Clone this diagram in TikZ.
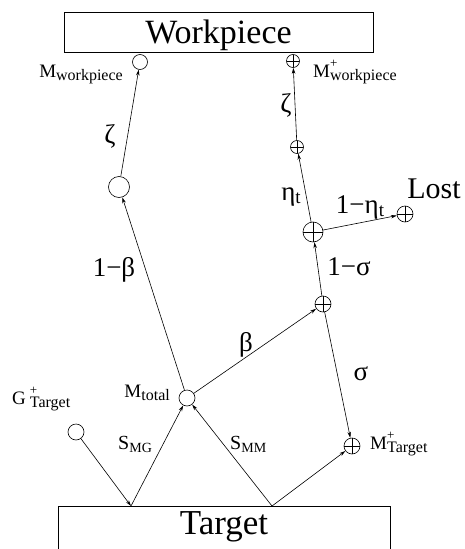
\documentclass[tikz,border=0pt]{standalone}
\usepackage{fontspec}
\setmainfont{Liberation Serif}
\usetikzlibrary{arrows.meta}

\newcommand{\lowsub}[2][16]{\raisebox{-3pt}{\fontsize{#1}{#1}\selectfont #2}}
\newcommand{\lowsup}[1]{\makebox[0pt][l]{\raisebox{9.5pt}{\fontsize{13}{13}\selectfont #1}}}

\tikzset{
  port/.style={circle, draw, line width=0.6pt, inner sep=0pt},
  pport/.style={port, path picture={
    \draw[line width=0.6pt] (path picture bounding box.north) -- (path picture bounding box.south)
      (path picture bounding box.west) -- (path picture bounding box.east);}},
  flow/.style={-{Stealth[length=6pt,width=3.5pt]}, line width=0.6pt},
  plate/.style={draw, line width=0.8pt, inner xsep=0pt, inner ysep=0pt, anchor=north},
  lbl/.style={font=\fontsize{27}{29}\selectfont, inner sep=0pt},
  mlbl/.style={font=\fontsize{19}{21}\selectfont, inner sep=0pt, anchor=base west},
}

\begin{document}
\begin{tikzpicture}[x=1pt,y=-1pt]
\useasboundingbox (0,0) rectangle (465,549);
\clip (0,0) rectangle (465,549);

% Boxes
\node[plate, minimum width=309pt, text height=31pt, text depth=9pt,
  font=\fontsize{34}{36}\selectfont] (wp) at (218.5,12) {Workpiece};
\node[plate, minimum width=332pt, text height=28pt, text depth=30pt,
  font=\fontsize{35}{37}\selectfont] (tg) at (224,506) {Target};
\coordinate (tgl) at (131,506);
\coordinate (tgr) at (272,506);

% Circles
\node[port, minimum size=15pt] (mwp) at (140,62) {};
\node[pport, minimum size=13pt] (mwpp) at (293,61) {};
\node[port, minimum size=21pt] (mid) at (119,187) {};
\node[pport, minimum size=13pt] (zp) at (297,147) {};
\node[pport, minimum size=20pt] (ep) at (313,232) {};
\node[pport, minimum size=16pt] (lost) at (405,214) {};
\node[pport, minimum size=16pt] (sp) at (323,304) {};
\node[port, minimum size=16pt] (mtot) at (187,398) {};
\node[port, minimum size=16pt] (gt) at (76,432) {};
\node[pport, minimum size=16pt] (mtp) at (352,446) {};

% Flows
\draw[flow] (mid) -- (mwp);
\draw[flow] (zp) -- (mwpp);
\draw[flow] (ep) -- (zp);
\draw[flow] (ep) -- (lost);
\draw[flow] (sp) -- (ep);
\draw[flow] (mtot) -- (mid);
\draw[flow] (mtot) -- (sp);
\draw[flow] (sp) -- (mtp);
\draw[flow] (gt) -- (tgl);
\draw[flow] (tgl) -- (mtot);
\draw[flow] (tgr) -- (mtot);
\draw[flow] (tgr) -- (mtp);

% Flow labels
\node[lbl] (zl) at (110,136) {ζ};
\node[lbl] (zr) at (286,105) {ζ};
\node[lbl] (et) at (291,197) {η\lowsub[19]{t}};
\node[lbl] (oet) at (360,207) {1−η\lowsub[19]{t}};
\node[lbl] (os) at (349,267) {1−σ};
\node[lbl] (ob) at (114,270) {1−β};
\node[lbl] (bt) at (246,345) {β};
\node[lbl] (sg) at (361,374) {σ};
\node[lbl, font=\fontsize{30}{32}\selectfont] (lostl) at (434,189) {Lost};

% Pool labels
\node[mlbl, anchor=base east] (lmwp) at (123,77) {M\lowsub{workpiece}};
\node[mlbl] (lmwpp) at (313,77) {M\lowsup{+}\lowsub{workpiece}};
\node[mlbl, anchor=base east] (lmtot) at (170,397) {M\lowsub{total}};
\node[mlbl] (lgt) at (12,404) {G\hspace{4pt}\lowsup{+}\lowsub{Target}};
\node[mlbl] (lmtp) at (370,449) {M\lowsup{+}\lowsub{Target}};
\node[mlbl, font=\fontsize{20}{22}\selectfont] (lsmg) at (118,449) {S\lowsub[14]{MG}};
\node[mlbl, font=\fontsize{20}{22}\selectfont] (lsmm) at (230,449) {S\lowsub[14]{MM}};

\end{tikzpicture}
\end{document}
